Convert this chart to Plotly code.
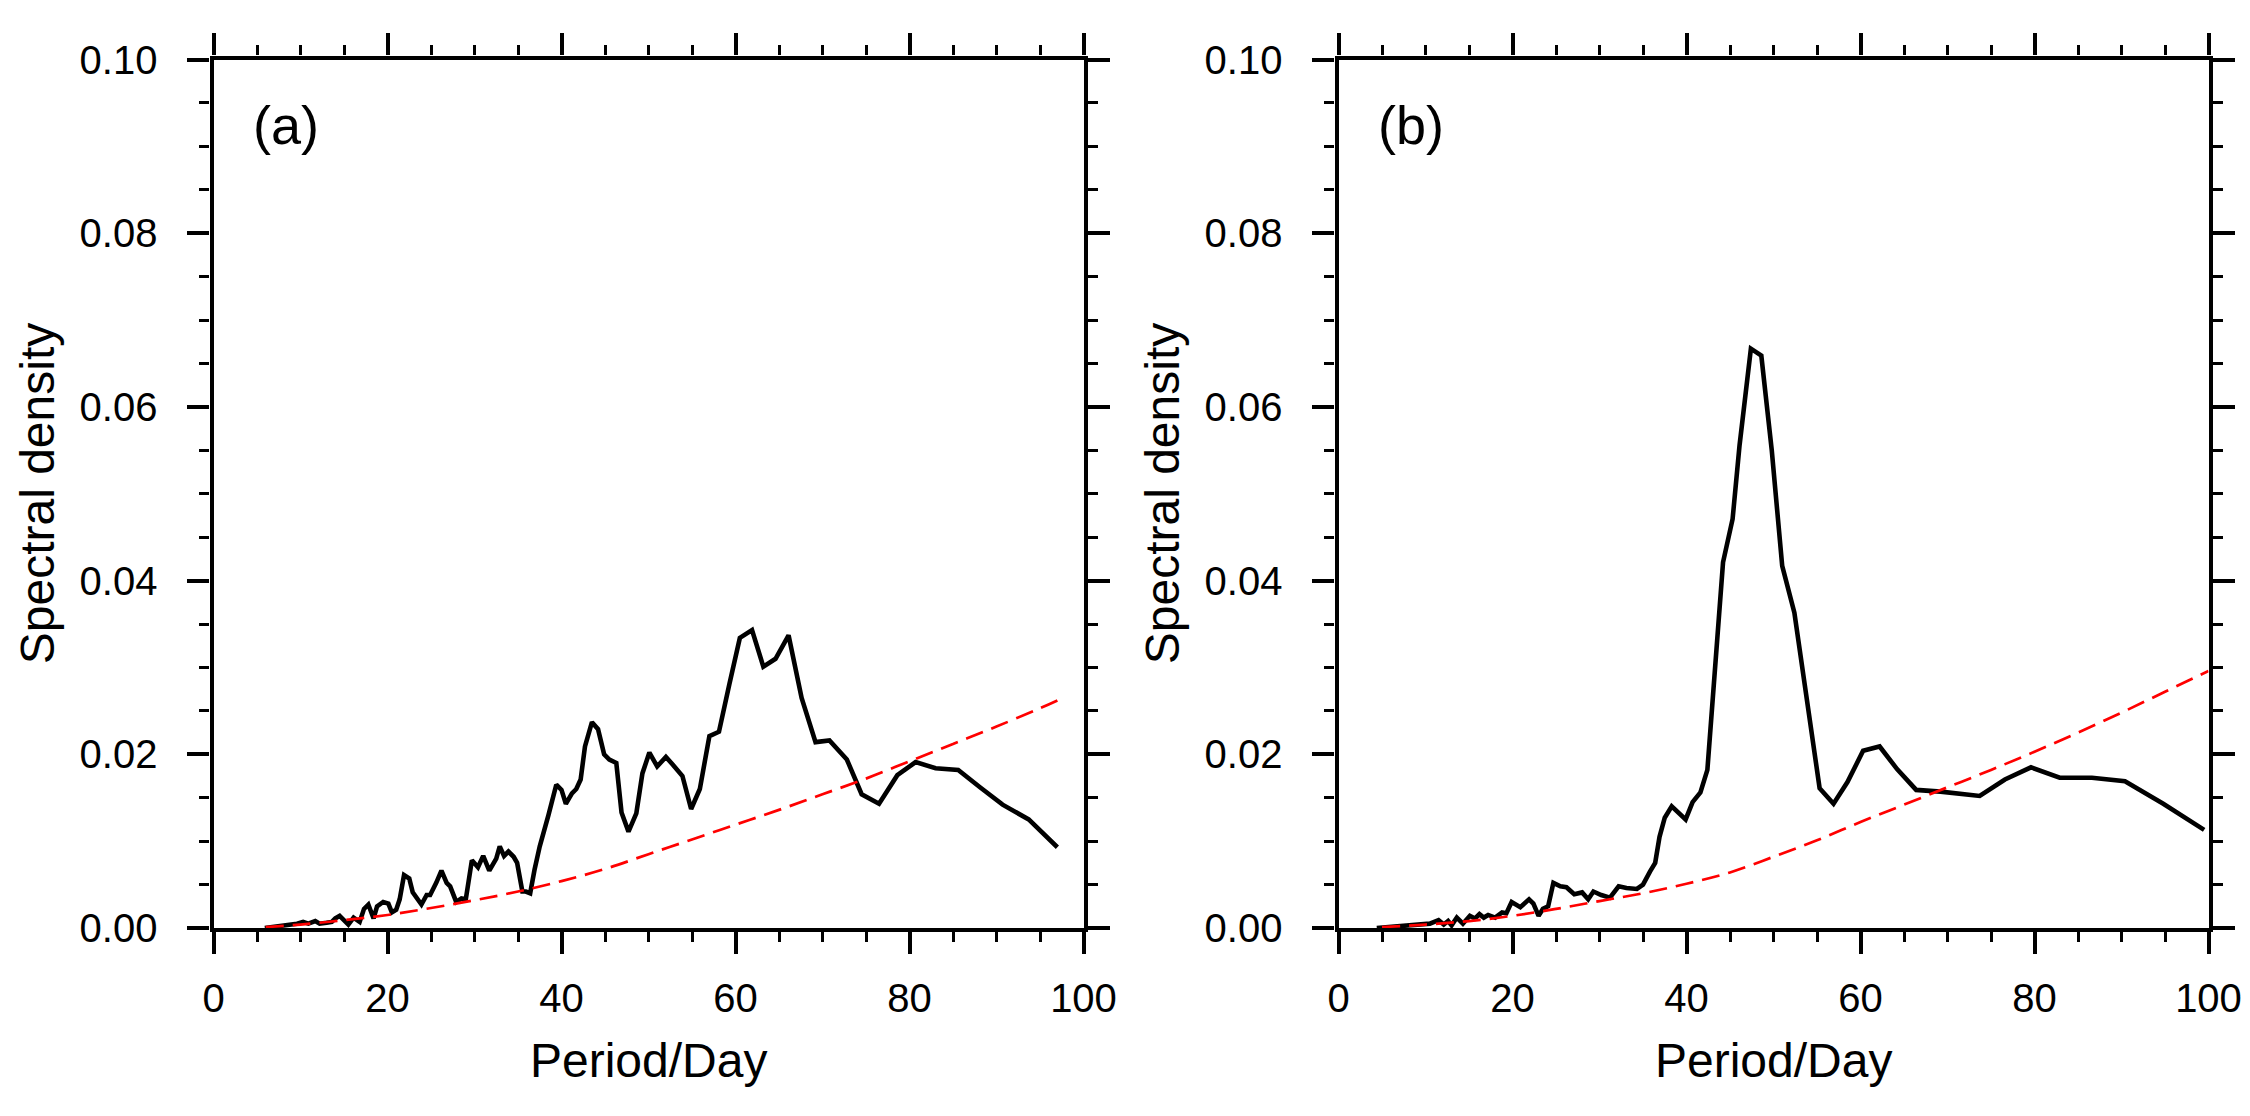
import plotly.graph_objects as go

# ---------------- data ----------------
a_period = [5.9, 7.6, 8.6, 9.6, 10.3, 10.9, 11.7, 12.2, 13.0, 13.6, 14.0, 14.5, 15.5, 16.1,
            16.8, 17.3, 17.8, 18.4, 18.8, 19.5, 20.1, 20.5, 21.0, 21.4, 21.9, 22.5, 22.9,
            23.4, 23.9, 24.5, 24.9, 25.6, 26.2, 26.8, 27.2, 27.9, 28.5, 29.0, 29.7, 30.4,
            31.0, 31.7, 32.5, 32.9, 33.4, 33.9, 34.5, 34.9, 35.5, 35.9, 36.4, 36.9, 37.5,
            38.5, 39.4, 40.0, 40.5, 41.2, 41.7, 42.2, 42.7, 43.5, 44.2, 44.9, 45.5, 46.3,
            46.9, 47.7, 48.6, 49.3, 50.1, 51.0, 52.0, 52.8, 53.9, 54.9, 55.9, 57.0, 58.1,
            59.3, 60.5, 61.9, 63.2, 64.6, 66.1, 67.6, 69.2, 70.8, 72.8, 74.5, 76.5, 78.6,
            80.7, 83.0, 85.6, 88.1, 90.7, 93.7, 97.0]
a_density = [0.0000, 0.0002, 0.0003, 0.0005, 0.0007, 0.0005, 0.0008, 0.0005, 0.0006, 0.0007,
             0.0011, 0.0014, 0.0004, 0.0012, 0.0007, 0.0022, 0.0027, 0.0011, 0.0025, 0.0030,
             0.0028, 0.0018, 0.0021, 0.0033, 0.0061, 0.0057, 0.0041, 0.0033, 0.0027, 0.0038,
             0.0038, 0.0052, 0.0066, 0.0052, 0.0048, 0.0030, 0.0034, 0.0033, 0.0078, 0.0070,
             0.0083, 0.0066, 0.0080, 0.0094, 0.0083, 0.0088, 0.0082, 0.0075, 0.0042, 0.0042,
             0.0040, 0.0067, 0.0094, 0.0130, 0.0165, 0.0159, 0.0143, 0.0155, 0.0160, 0.0171,
             0.0209, 0.0237, 0.0229, 0.0200, 0.0194, 0.0190, 0.0133, 0.0111, 0.0132, 0.0178,
             0.0202, 0.0186, 0.0197, 0.0188, 0.0175, 0.0137, 0.0160, 0.0221, 0.0226, 0.0281,
             0.0334, 0.0343, 0.0301, 0.0310, 0.0337, 0.0265, 0.0214, 0.0216, 0.0194, 0.0154,
             0.0143, 0.0176, 0.0191, 0.0184, 0.0182, 0.0162, 0.0142, 0.0125, 0.0093]

a_red_period = [6, 10, 15, 20, 25, 30, 35, 40, 45, 50, 55, 60, 65, 70, 75, 80, 85, 90, 95, 97]
a_red_density = [0.0001, 0.0004, 0.0009, 0.0015, 0.0023, 0.0032, 0.0042, 0.0054, 0.0068,
                 0.0085, 0.0102, 0.0119, 0.0136, 0.0154, 0.0172, 0.0192, 0.0212, 0.0232,
                 0.0253, 0.0262]

b_period = [4.4, 7.1, 9.4, 10.5, 11.5, 12.1, 12.6, 13.0, 13.6, 14.3, 15.1, 15.7, 16.2, 16.7,
            17.2, 18.0, 18.8, 19.3, 19.9, 20.9, 21.9, 22.4, 23.0, 23.5, 24.1, 24.7, 25.5,
            26.2, 27.1, 28.0, 28.7, 29.3, 30.2, 31.2, 32.2, 33.1, 34.3, 35.0, 35.8, 36.4,
            36.9, 37.5, 38.3, 39.9, 40.7, 41.6, 42.4, 44.2, 45.3, 46.1, 47.4, 48.6, 49.8,
            51.0, 52.4, 53.4, 55.3, 56.9, 58.5, 60.3, 62.2, 64.2, 66.4, 69.2, 71.4, 73.7,
            76.6, 79.6, 82.9, 86.6, 90.4, 94.8, 99.5]
b_density = [0.0000, 0.0002, 0.0004, 0.0005, 0.0009, 0.0004, 0.0008, 0.0003, 0.0012, 0.0005,
             0.0014, 0.0011, 0.0016, 0.0012, 0.0015, 0.0012, 0.0018, 0.0017, 0.0030, 0.0024,
             0.0033, 0.0028, 0.0014, 0.0022, 0.0025, 0.0052, 0.0048, 0.0047, 0.0039, 0.0041,
             0.0033, 0.0042, 0.0038, 0.0035, 0.0048, 0.0046, 0.0045, 0.0050, 0.0065, 0.0075,
             0.0105, 0.0127, 0.0140, 0.0125, 0.0145, 0.0156, 0.0182, 0.0421, 0.0471, 0.0556,
             0.0667, 0.0659, 0.0550, 0.0417, 0.0363, 0.0294, 0.0161, 0.0143, 0.0168, 0.0204,
             0.0209, 0.0183, 0.0159, 0.0157, 0.0155, 0.0152, 0.0171, 0.0185, 0.0173, 0.0173,
             0.0169, 0.0143, 0.0113]

b_red_period = [5, 10, 15, 20, 25, 30, 35, 40, 45, 50, 55, 60, 65, 70, 75, 80, 85, 90, 95, 100]
b_red_density = [0.0001, 0.0004, 0.0008, 0.0014, 0.0022, 0.0031, 0.0040, 0.0051, 0.0064,
                 0.0082, 0.0101, 0.0122, 0.0142, 0.0162, 0.0182, 0.0203, 0.0225, 0.0248,
                 0.0272, 0.0296]

panel_labels = ["(a)", "(b)"]
x_title = "Period/Day"
y_title = "Spectral density"
x_ticks = [0, 20, 40, 60, 80, 100]
y_ticks = [0.00, 0.02, 0.04, 0.06, 0.08, 0.10]
y_tick_text = ["0.00", "0.02", "0.04", "0.06", "0.08", "0.10"]

# ---------------- figure ----------------
W, H = 2250, 1116
FONT = "Liberation Sans, Arial, Helvetica, sans-serif"

fig = go.Figure()

fig.add_trace(go.Scatter(x=a_period, y=a_density, mode="lines",
                         line=dict(color="black", width=4.6), xaxis="x", yaxis="y"))
fig.add_trace(go.Scatter(x=a_red_period, y=a_red_density, mode="lines",
                         line=dict(color="#ff0000", width=2.7, dash="18px,9px", shape="spline"),
                         xaxis="x", yaxis="y"))
fig.add_trace(go.Scatter(x=b_period, y=b_density, mode="lines",
                         line=dict(color="black", width=4.6), xaxis="x2", yaxis="y2"))
fig.add_trace(go.Scatter(x=b_red_period, y=b_red_density, mode="lines",
                         line=dict(color="#ff0000", width=2.7, dash="18px,9px", shape="spline"),
                         xaxis="x2", yaxis="y2"))

x_domains = [[213.5 / W, 1083.5 / W], [1338.5 / W, 2208.5 / W]]
y_domain = [1 - 928 / H, 1 - 59.5 / H]


def xaxis_cfg(dom, anchor):
    return dict(domain=dom, anchor=anchor, range=[0, 100], tickvals=x_ticks,
                ticks="outside", ticklen=22, tickwidth=3.8, tickcolor="black",
                showline=True, linewidth=4.2, linecolor="black", mirror="ticks",
                showgrid=False, zeroline=False, ticklabelstandoff=10,
                tickfont=dict(family=FONT, size=40, color="black"),
                minor=dict(dtick=5, ticks="outside", ticklen=10, tickwidth=2.8,
                           tickcolor="black", showgrid=False),
                automargin=False, fixedrange=True)


def yaxis_cfg(anchor):
    return dict(domain=y_domain, anchor=anchor, range=[0, 0.1], tickvals=y_ticks,
                ticktext=y_tick_text,
                ticks="outside", ticklen=22, tickwidth=3.8, tickcolor="black",
                showline=True, linewidth=4.2, linecolor="black", mirror="ticks",
                showgrid=False, zeroline=False, ticklabelstandoff=22,
                tickfont=dict(family=FONT, size=40, color="black"),
                minor=dict(dtick=0.005, ticks="outside", ticklen=10, tickwidth=2.8,
                           tickcolor="black", showgrid=False),
                automargin=False, fixedrange=True)


fig.update_layout(
    width=W, height=H,
    margin=dict(l=0, r=0, t=0, b=0),
    paper_bgcolor="white", plot_bgcolor="white",
    showlegend=False,
    xaxis=xaxis_cfg(x_domains[0], "y"),
    yaxis=yaxis_cfg("x"),
    xaxis2=xaxis_cfg(x_domains[1], "y2"),
    yaxis2=yaxis_cfg("x2"),
)

for i, lab in enumerate(panel_labels):
    sfx = "" if i == 0 else "2"
    fig.add_annotation(text=lab, x=0.083, y=0.925, xref=f"x{sfx} domain", yref=f"y{sfx} domain",
                       showarrow=False, xanchor="center", yanchor="middle",
                       font=dict(family=FONT, size=54, color="black"))
    dom = x_domains[i]
    # x-axis title below each panel
    fig.add_annotation(text=x_title, x=(dom[0] + dom[1]) / 2, y=1 - 1060 / H,
                       xref="paper", yref="paper", showarrow=False,
                       xanchor="center", yanchor="middle",
                       font=dict(family=FONT, size=48, color="black"))
    # y-axis title left of each panel
    fig.add_annotation(text=y_title, x=(dom[0] * W - 176) / W, y=(y_domain[0] + y_domain[1]) / 2,
                       xref="paper", yref="paper", showarrow=False, textangle=-90,
                       xanchor="center", yanchor="middle",
                       font=dict(family=FONT, size=48, color="black"))

fig.write_html("out.html", config={"displayModeBar": False},
               post_script="document.body.style.margin='0px';")
